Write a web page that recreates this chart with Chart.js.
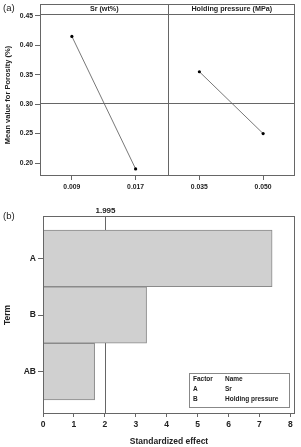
<!DOCTYPE html>
<html>
<head>
<meta charset="utf-8">
<script src="https://cdn.jsdelivr.net/npm/chart.js@4"></script>
<style>
body { margin: 0; background: #fff; width: 301px; height: 447px; position: relative; overflow: hidden; font-family: "Liberation Sans", Arial, sans-serif; }
#wrapA { position: absolute; left: 0; top: 0; width: 301px; height: 200px; }
#wrapB { position: absolute; left: 0; top: 200px; width: 301px; height: 247px; }
.tag { position: absolute; left: 3px; font-size: 9.5px; color: #222; }
</style>
</head>
<body>
<div id="wrapA"><canvas id="mainEffects"></canvas></div>
<div id="wrapB"><canvas id="pareto"></canvas></div>
<span class="tag" style="top:2px">(a)</span>
<span class="tag" style="top:210px">(b)</span>
<script>
// (a) main effects plot for porosity
const factors = ['Sr (wt%)', 'Holding pressure (MPa)'];
const levels = ['0.009', '0.017', '0.035', '0.050'];
const srMeans = [0.415, 0.19];
const pressureMeans = [0.355, 0.25];

// (b) pareto chart of standardized effects
const terms = ['A', 'B', 'AB'];
const effects = [7.41, 3.35, 1.67];
const critical = 1.995;
const factorNames = ['Sr', 'Holding pressure'];

const FONT = '"Liberation Sans", Arial, sans-serif';
const INK = '#222';
const FRAME = '#666';

const frameA = {
    id: 'frameA',
    afterDraw(chart) {
        const { ctx, chartArea: a, scales: { x, y } } = chart;
        const mid = Math.round((x.getPixelForValue(1) + x.getPixelForValue(2)) / 2) + 0.5;
        const all = srMeans.concat(pressureMeans);
        const grand = all.reduce((s, v) => s + v, 0) / all.length;
        const gy = Math.round(y.getPixelForValue(grand)) + 0.5;
        ctx.save();
        ctx.strokeStyle = FRAME;
        ctx.lineWidth = 1;
        ctx.strokeRect(a.left + 0.5, 4.5, a.right - a.left - 1, a.bottom - 4.5 - 0.5);
        ctx.beginPath();
        ctx.moveTo(a.left, a.top + 0.5); ctx.lineTo(a.right, a.top + 0.5);
        ctx.moveTo(mid, 4); ctx.lineTo(mid, a.bottom);
        ctx.moveTo(a.left, gy); ctx.lineTo(a.right, gy);
        ctx.stroke();
        ctx.fillStyle = INK;
        ctx.font = 'bold 7.2px ' + FONT;
        ctx.textAlign = 'center';
        ctx.textBaseline = 'middle';
        ctx.fillText(factors[0], (a.left + mid) / 2, (4 + a.top) / 2 + 0.5);
        ctx.fillText(factors[1], (mid + a.right) / 2, (4 + a.top) / 2 + 0.5);
        ctx.restore();
    }
};

new Chart(document.getElementById('mainEffects'), {
    type: 'line',
    data: {
        labels: levels,
        datasets: [
            { data: srMeans.concat([null, null]) },
            { data: [null, null].concat(pressureMeans) }
        ]
    },
    options: {
        responsive: true,
        maintainAspectRatio: false,
        animation: false,
        layout: { padding: { top: 14, right: 6, left: 0, bottom: 0 } },
        elements: {
            line: { borderColor: '#555', borderWidth: 0.8, tension: 0 },
            point: { radius: 1.6, backgroundColor: '#000', borderColor: '#000', borderWidth: 0 }
        },
        plugins: { legend: { display: false }, tooltip: { enabled: false } },
        scales: {
            x: {
                offset: true,
                afterFit: s => { s.height = 24; },
                border: { display: false },
                grid: { drawOnChartArea: false, drawTicks: true, tickLength: 4, color: FRAME, offset: false },
                ticks: { color: INK, font: { family: FONT, size: 6.8, weight: 'bold' }, padding: 3, maxRotation: 0 }
            },
            y: {
                min: 0.178,
                max: 0.453,
                afterFit: s => { s.width = 40; },
                border: { display: false },
                grid: { drawOnChartArea: false, drawTicks: true, tickLength: 5, color: FRAME },
                ticks: {
                    stepSize: 0.05, includeBounds: false, padding: 2, color: INK,
                    font: { family: FONT, size: 6.8, weight: 'bold' },
                    callback: v => v.toFixed(2)
                },
                title: {
                    display: true, text: 'Mean value for Porosity (%)', color: INK,
                    font: { family: FONT, size: 7.5, weight: 'bold' }, padding: { top: 3, bottom: 0 }
                }
            }
        }
    },
    plugins: [frameA]
});

const frameB = {
    id: 'frameB',
    beforeDatasetsDraw(chart) {
        const { ctx, chartArea: a, scales: { x } } = chart;
        const cx = Math.round(x.getPixelForValue(critical)) + 0.5;
        ctx.save();
        ctx.strokeStyle = FRAME;
        ctx.lineWidth = 1;
        ctx.beginPath();
        ctx.moveTo(cx, a.top); ctx.lineTo(cx, a.bottom);
        ctx.stroke();
        ctx.fillStyle = INK;
        ctx.font = 'bold 8px ' + FONT;
        ctx.textAlign = 'center';
        ctx.textBaseline = 'bottom';
        ctx.fillText(critical.toFixed(3), cx, a.top - 1);
        ctx.restore();
    },
    afterDraw(chart) {
        const { ctx, chartArea: a } = chart;
        ctx.save();
        ctx.strokeStyle = FRAME;
        ctx.lineWidth = 1;
        ctx.strokeRect(a.left + 0.5, a.top + 0.5, a.right - a.left - 1, a.bottom - a.top - 1);
        // factor key box
        const bx = a.right - 106, by = a.bottom - 41, bw = 100, bh = 34;
        ctx.strokeStyle = '#888';
        ctx.strokeRect(bx + 0.5, by + 0.5, bw, bh);
        ctx.fillStyle = INK;
        ctx.font = 'bold 6.5px ' + FONT;
        ctx.textBaseline = 'middle';
        const rows = [['Factor', 'Name']].concat(factorNames.map((n, i) => [terms[i], n]));
        rows.forEach((r, i) => {
            ctx.fillText(r[0], bx + 4, by + 6.5 + i * 10);
            ctx.fillText(r[1], bx + 36, by + 6.5 + i * 10);
        });
        ctx.restore();
    }
};

new Chart(document.getElementById('pareto'), {
    type: 'bar',
    data: {
        datasets: [{
            data: effects.map((v, i) => ({ x: v, y: i + 1 })),
            backgroundColor: '#d0d0d0',
            borderColor: '#8a8a8a',
            borderWidth: 1,
            barPercentage: 1,
            categoryPercentage: 1
        }]
    },
    options: {
        indexAxis: 'y',
        responsive: true,
        maintainAspectRatio: false,
        animation: false,
        layout: { padding: { top: 16, right: 6, left: 0, bottom: 0 } },
        plugins: { legend: { display: false }, tooltip: { enabled: false } },
        scales: {
            x: {
                type: 'linear',
                min: 0,
                max: 8.15,
                afterFit: s => { s.height = 33; },
                border: { display: false },
                grid: { drawOnChartArea: false, drawTicks: true, tickLength: 3, color: FRAME },
                ticks: { stepSize: 1, includeBounds: false, padding: 3, color: INK, font: { family: FONT, size: 8.5, weight: 'bold' } },
                title: {
                    display: true, text: 'Standardized effect', color: INK,
                    font: { family: FONT, size: 8.5, weight: 'bold' }, padding: { top: 1, bottom: 0 }
                }
            },
            y: {
                type: 'linear',
                reverse: true,
                offset: false,
                min: 0.25,
                max: 3.75,
                afterFit: s => { s.width = 43; },
                border: { display: false },
                grid: { offset: false, drawOnChartArea: false, drawTicks: true, tickLength: 5, color: FRAME },
                ticks: {
                    stepSize: 1, includeBounds: false, padding: 2, color: INK,
                    font: { family: FONT, size: 8.5, weight: 'bold' },
                    callback: v => terms[Math.round(v) - 1] || ''
                },
                title: {
                    display: true, text: 'Term', color: INK,
                    font: { family: FONT, size: 8.5, weight: 'bold' }, padding: { top: 3, bottom: 0 }
                }
            }
        }
    },
    plugins: [frameB]
});
</script>
</body>
</html>
